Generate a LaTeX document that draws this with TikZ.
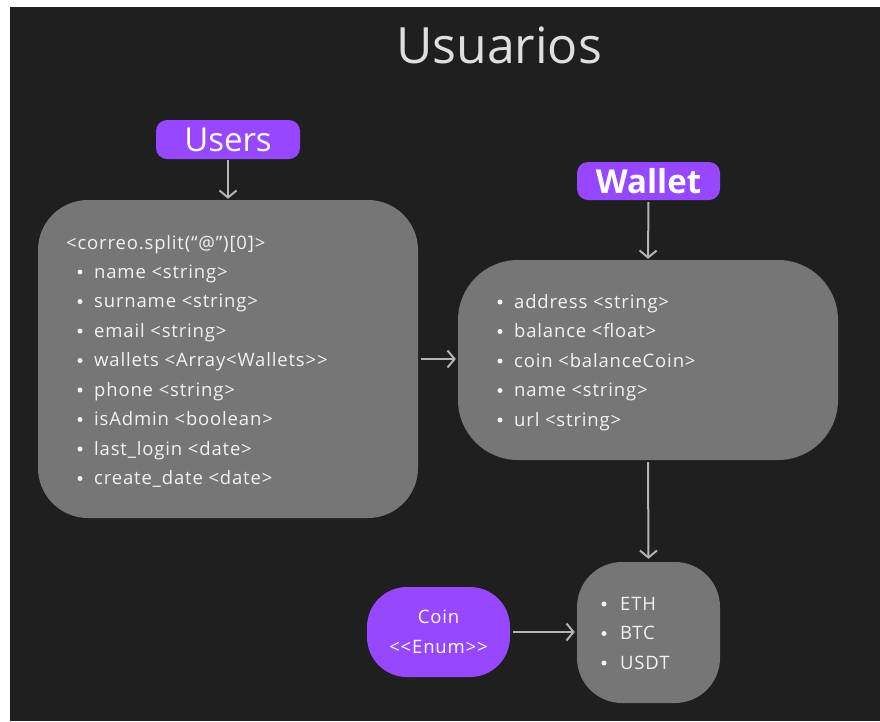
\documentclass[tikz,border=0pt]{standalone}
\usepackage{fontspec}
\setmainfont{Open Sans}
\newfontfamily\bodyfont[LetterSpace=4.5]{Open Sans}
\usetikzlibrary{arrows.meta}

\definecolor{bg}{HTML}{1F1F1F}
\definecolor{card}{HTML}{767676}
\definecolor{accent}{HTML}{9747FF}
\definecolor{link}{HTML}{B4B4B4}
\definecolor{ink}{HTML}{F2F2F2}

\tikzset{
  card/.style={fill=card, draw=none, inner sep=0pt},
  tag/.style={fill=accent, draw=none, inner sep=0pt, rounded corners=11pt,
              text=white, font=\fontsize{33}{36}\selectfont},
  item/.style={anchor=base west, inner sep=0pt, text=ink,
               font=\bodyfont\fontsize{18.5}{20}\selectfont},
  dot/.style={fill=ink},
  link/.style={draw=link, line width=2pt,
               -{Straight Barb[length=7pt,width=17pt,line width=2pt]}},
}

\begin{document}
\begin{tikzpicture}[x=1pt,y=-1pt]
  % canvas
  \fill[white] (0,0) rectangle (880,721);
  \fill[bg] (10,7) rectangle (880,721);
  \useasboundingbox (0,0) rectangle (880,721);

  % heading
  \node[text=ink!92!black, font=\fontsize{50}{56}\selectfont, inner sep=0pt]
    (title) at (499,45) {Usuarios};

  % Users entity
  \node[tag, minimum width=144pt, minimum height=39pt] (ulabel) at (228,139.5) {Users};
  \node[card, rounded corners=50pt, minimum width=380pt, minimum height=318pt]
    (ubox) at (228,359) {};
  \node[item] (uhead) at (66,249) {<correo.split(“@”)[0]>};
  \foreach \y/\t [count=\i] in {278/{name <string>}, 307.5/{surname <string>},
      337/{email <string>}, 366.5/{wallets <Array<Wallets>{}>}, 396/{phone <string>},
      425.5/{isAdmin <boolean>}, 455/{last\_login <date>}, 484.5/{create\_date <date>}}{
    \fill[dot] (80,\y-6) circle (2.5pt);
    \node[item] (u\i) at (94,\y) {\t};
  }

  % Wallet entity
  \node[tag, font=\fontsize{33}{36}\selectfont\bfseries,
        minimum width=143pt, minimum height=38pt] (wlabel) at (648.5,181) {Wallet};
  \node[card, rounded corners=60pt, minimum width=380pt, minimum height=200pt]
    (wbox) at (648,360) {};
  \foreach \y/\t [count=\i] in {308/{address <string>}, 337.5/{balance <float>},
      367/{coin <balanceCoin>}, 396.5/{name <string>}, 426/{url <string>}}{
    \fill[dot] (500,\y-6) circle (2.5pt);
    \node[item] (w\i) at (514,\y) {\t};
  }

  % Coin enumeration
  \node[card, rounded corners=45pt, minimum width=143pt, minimum height=141pt]
    (ebox) at (648.5,632.5) {};
  \foreach \y/\t [count=\i] in {610/ETH, 639.5/BTC, 669/USDT}{
    \fill[dot] (604,\y-6) circle (2.5pt);
    \node[item] (e\i) at (620,\y) {\t};
  }
  \node[tag, rounded corners=40pt, minimum width=143pt, minimum height=90pt,
        font=\bodyfont\fontsize{18.5}{29.5}\selectfont, align=center] (coin) at (438.5,632)
    {Coin\\<{}<Enum>{}>};

  % connectors
  \draw[link, shorten <=1pt, shorten >=1pt] (ulabel.south) -- (ubox.north);
  \draw[link, shorten <=2pt, shorten >=1pt] (wlabel.south) -- (wbox.north);
  \draw[link, shorten <=3pt, shorten >=2pt] (ubox.east) -- (ubox.east -| wbox.west);
  \draw[link, shorten <=2pt, shorten >=3pt] (wbox.south) -- (ebox.north);
  \draw[link, shorten <=3pt, shorten >=2pt] (coin.east) -- (coin.east -| ebox.west);
\end{tikzpicture}
\end{document}
